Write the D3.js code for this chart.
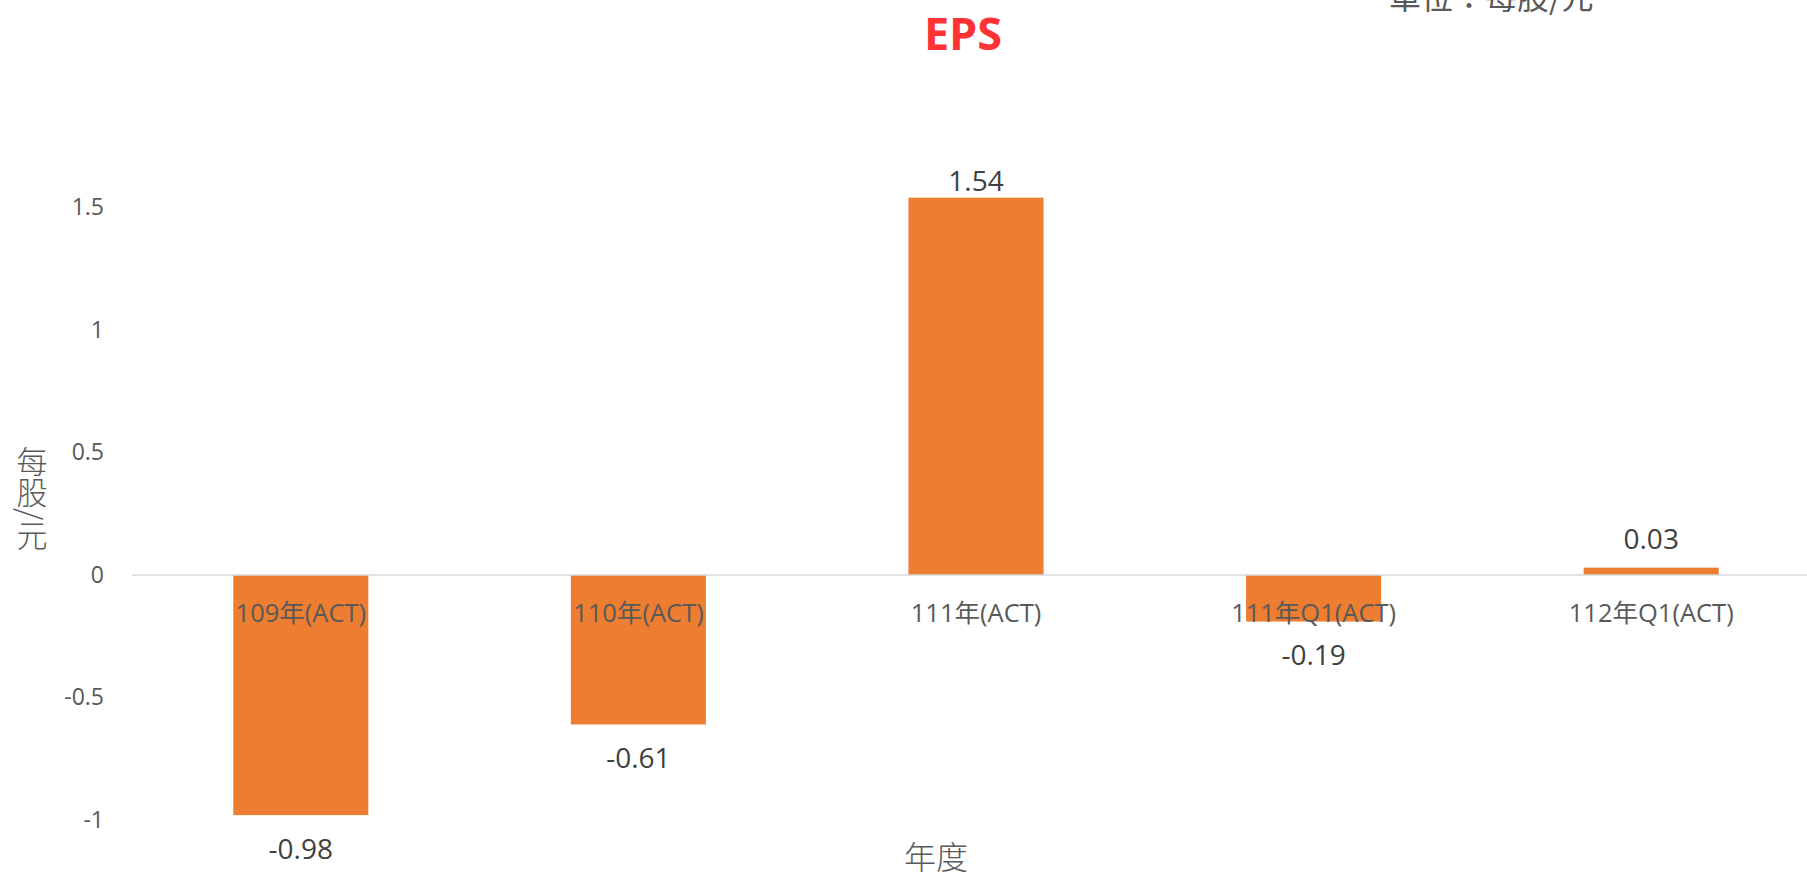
<!DOCTYPE html>
<html>
<head>
<meta charset="utf-8">
<script src="https://cdn.jsdelivr.net/npm/d3@7"></script>
<style>
    body { margin: 0; background: #fff; }
    svg { display: block; }
</style>
</head>
<body>
<div id="chart"></div>
<script>
// data
const categories = ["109年(ACT)", "110年(ACT)", "111年(ACT)", "111年Q1(ACT)", "112年Q1(ACT)"];
const eps = [-0.98, -0.61, 1.54, -0.19, 0.03];
const yTicks = [-1, -0.5, 0, 0.5, 1, 1.5];

const width = 1807, height = 877;
const font = "'Open Sans', 'Noto Sans CJK TC', sans-serif";
const grey = "#595959";

const svg = d3.select("#chart")
    .append("svg")
    .attr("width", width)
    .attr("height", height)
    .style("font-family", font);

const x = d3.scaleBand()
    .domain(categories)
    .range([132, 1820])
    .paddingInner(0.6)
    .paddingOuter(0.3);

const y = d3.scaleLinear()
    .domain([-1, 1.5])
    .range([820, 207.5]);

// y tick labels (no axis line)
const yAxis = svg.append("g")
    .attr("transform", "translate(112,0)")
    .call(d3.axisLeft(y).tickValues(yTicks).tickSize(0).tickPadding(8).tickFormat(d => String(d)));
yAxis.select(".domain").remove();
yAxis.selectAll("text")
    .attr("fill", grey)
    .style("font-size", "23px")
    .style("font-family", font);

// bars
svg.selectAll("rect.bar")
    .data(eps)
    .enter()
    .append("rect")
    .attr("class", "bar")
    .attr("x", (d, i) => x(categories[i]))
    .attr("y", d => y(Math.max(0, d)))
    .attr("width", x.bandwidth())
    .attr("height", d => Math.abs(y(d) - y(0)))
    .attr("fill", "#ED7D31");

// zero line
svg.append("line")
    .attr("x1", 132).attr("x2", width)
    .attr("y1", y(0)).attr("y2", y(0))
    .attr("stroke", "#d9d9d9")
    .attr("stroke-width", 1.5);

// category labels next to the axis
const xAxis = svg.append("g")
    .attr("transform", `translate(0,${y(0)})`)
    .call(d3.axisBottom(x).tickSize(0).tickPadding(29));
xAxis.select(".domain").remove();
xAxis.selectAll("text")
    .attr("fill", grey)
    .style("font-size", "25.5px")
    .style("font-family", font);

// value labels
svg.selectAll("text.value")
    .data(eps)
    .enter()
    .append("text")
    .attr("class", "value")
    .attr("x", (d, i) => x(categories[i]) + x.bandwidth() / 2)
    .attr("y", d => d >= 0 ? Math.min(y(d) - 17, y(0) - 36) : y(d) + 34)
    .attr("dy", "0.35em")
    .attr("text-anchor", "middle")
    .attr("fill", "#404040")
    .style("font-size", "28px")
    .text(d => d.toFixed(2));

// title
svg.append("text")
    .attr("x", 963)
    .attr("y", 34)
    .attr("dy", "0.35em")
    .attr("text-anchor", "middle")
    .attr("fill", "#FF3333")
    .attr("font-weight", "700")
    .style("font-size", "45px")
    .text("EPS");

// unit note, partly cut off at the top as in the original
svg.append("text")
    .attr("x", 1389)
    .attr("y", 9)
    .attr("fill", grey)
    .style("font-family", "'Noto Sans CJK TC', sans-serif")
    .style("font-size", "32px")
    .text("單位：每股/元");

// y axis title, vertical
svg.append("text")
    .attr("x", 32)
    .attr("y", 446)
    .attr("fill", grey)
    .style("font-family", "'Noto Sans CJK TC', sans-serif")
    .style("font-size", "31px")
    .style("font-weight", "300")
    .style("writing-mode", "vertical-rl")
    .text("每股/元");

// x axis title
svg.append("text")
    .attr("x", 936)
    .attr("y", 858)
    .attr("dy", "0.35em")
    .attr("text-anchor", "middle")
    .attr("fill", grey)
    .style("font-family", "'Noto Sans CJK TC', sans-serif")
    .style("font-size", "32px")
    .style("font-weight", "300")
    .text("年度");
</script>
</body>
</html>
